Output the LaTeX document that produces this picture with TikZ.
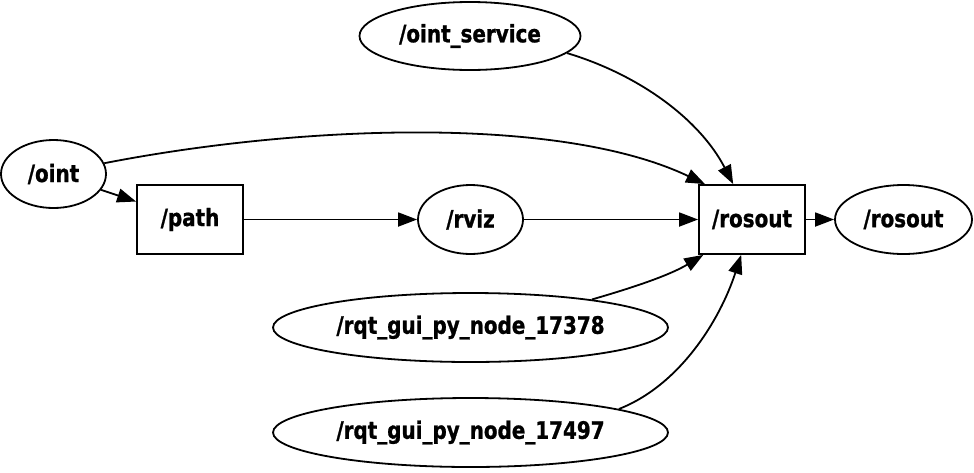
\documentclass[tikz,border=0pt]{standalone}
\usepackage{fontspec}
\newfontfamily\gvfont{DejaVu Sans}[FakeStretch=0.83,FakeBold=1]
\usetikzlibrary{arrows.meta, shapes.geometric}

\begin{document}
\begin{tikzpicture}[x=1pt,y=-1pt,
  rosnode/.style={draw,ellipse,line width=1.8pt,inner sep=0pt,minimum height=68pt,
              font=\gvfont\bfseries\fontsize{24}{26}\selectfont},
  topic/.style={draw,rectangle,line width=1.8pt,inner sep=0pt,minimum width=106pt,
              minimum height=69pt,font=\gvfont\bfseries\fontsize{24}{26}\selectfont},
  arr/.style={-{Triangle[length=19pt,width=14pt]},line width=1.8pt}
]
\useasboundingbox (0,0) rectangle (974,472);
\node[rosnode,minimum width=221pt] (srv) at (470,36) {/oint\_service};
\node[rosnode,minimum width=105pt] (oint) at (53.5,174) {/oint};
\node[topic] (path) at (190,219.5) {/path};
\node[rosnode,minimum width=105pt,minimum height=69pt] (rviz) at (470.5,219.5) {/rviz};
\node[topic] (rosout) at (752,219.5) {/rosout};
\node[rosnode,minimum width=137pt,minimum height=69pt] (rosoutn) at (903.5,219.5) {/rosout};
\node[rosnode,minimum width=395pt,minimum height=69pt] (rqta) at (470.5,327.5) {/rqt\_gui\_py\_node\_17378};
\node[rosnode,minimum width=395pt,minimum height=69pt] (rqtb) at (470.5,432.5) {/rqt\_gui\_py\_node\_17497};
\draw[arr] (oint)--(path); \draw[arr] (path)--(rviz);
\draw[arr] (rviz)--(rosout); \draw[arr] (rosout)--(rosoutn);
\draw[arr] (oint.12) .. controls (300,125) and (560,115) .. (rosout.143);
\draw[arr] (srv.-10) .. controls (640,75) and (700,120) .. (rosout.118);
\draw[arr] (rqta.13) .. controls (635,287) and (670,275) .. (rosout.216);
\draw[arr] (rqtb.9) .. controls (680,385) and (720,320) .. (rosout.253);
\end{tikzpicture}
\end{document}
